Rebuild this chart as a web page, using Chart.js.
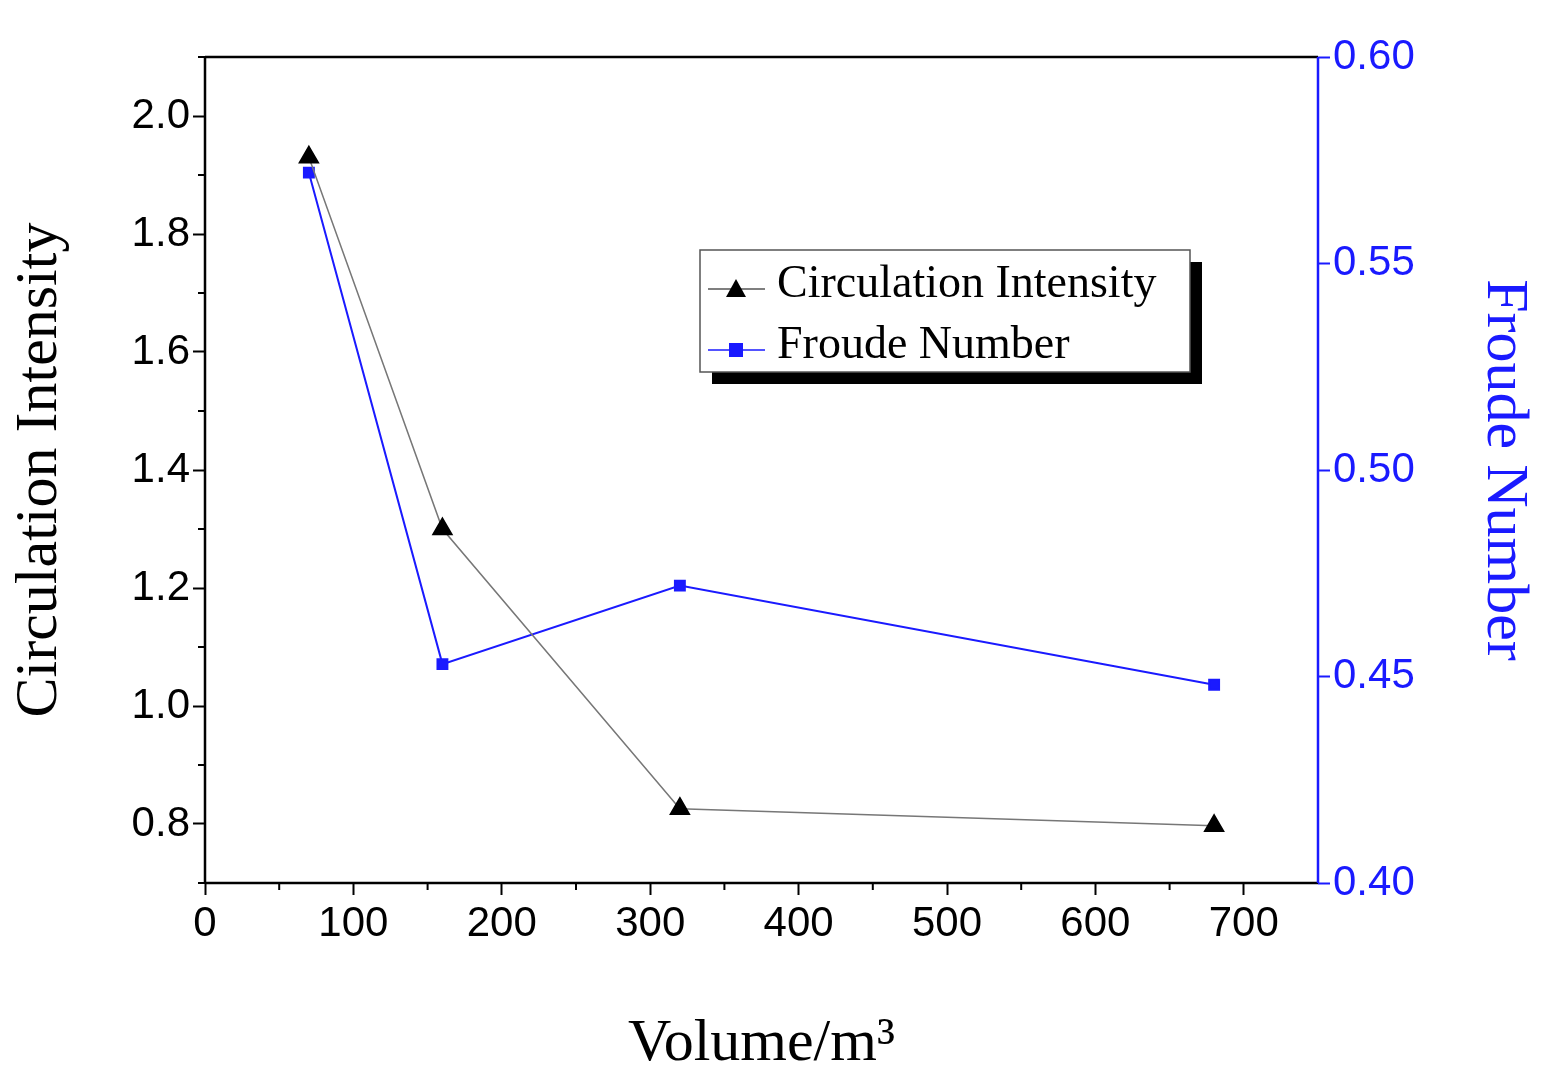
<!DOCTYPE html>
<html><head><meta charset="utf-8">
<script src="https://cdn.jsdelivr.net/npm/chart.js@4"></script>
<style>html,body{margin:0;padding:0;background:#fff}#w{width:1550px;height:1084px}</style>
</head><body><div id="w"><canvas id="c"></canvas></div>
<script>
const volumes=[70,160,320,680];
const circulation=[1.93,1.30,0.826,0.797];
const froude=[0.572,0.453,0.472,0.448];
const seriesNames=['Circulation Intensity','Froude Number'];
const xTicks=[0,100,200,300,400,500,600,700];
const BLUE='#1a1aff';
const frame={id:'frame',afterDraw(ch){
 const c=ch.ctx,a=ch.chartArea,x=ch.scales.x,y=ch.scales.y;
 c.save();c.lineWidth=2.5;c.strokeStyle='#000';
 c.beginPath();c.moveTo(a.left,a.top);c.lineTo(a.right,a.top);c.moveTo(a.left,a.bottom);c.lineTo(a.right,a.bottom);c.moveTo(a.left,a.top);c.lineTo(a.left,a.bottom);c.stroke();
 c.strokeStyle=BLUE;c.beginPath();c.moveTo(a.right,a.top);c.lineTo(a.right,a.bottom);c.stroke();
 c.lineWidth=2;c.strokeStyle='#000';c.beginPath();
 for(let v=50;v<750;v+=100){const p=x.getPixelForValue(v);c.moveTo(p,a.bottom);c.lineTo(p,a.bottom+7);}
 for(let v=0.7;v<2.1;v+=0.2){const p=y.getPixelForValue(v);c.moveTo(a.left,p);c.lineTo(a.left-7,p);}
 c.stroke();
 const lx=700,ly=250,lw=490,lh=122;
 c.fillStyle='#000';c.fillRect(lx+12,ly+12,lw,lh);
 c.fillStyle='#fff';c.fillRect(lx,ly,lw,lh);c.lineWidth=1.5;c.strokeStyle='#555';c.strokeRect(lx,ly,lw,lh);
 c.font='46px "Liberation Serif"';c.textBaseline='middle';
 c.strokeStyle='#555';c.lineWidth=1.5;c.beginPath();c.moveTo(708,289);c.lineTo(765,289);c.stroke();
 c.fillStyle='#000';c.beginPath();c.moveTo(736,279);c.lineTo(746,297);c.lineTo(726,297);c.closePath();c.fill();
 c.fillText(seriesNames[0],777,285);
 c.strokeStyle=BLUE;c.beginPath();c.moveTo(708,350);c.lineTo(765,350);c.stroke();
 c.fillStyle=BLUE;c.fillRect(729,343,14,14);
 c.fillStyle='#000';c.fillText(seriesNames[1],777,346);
 c.restore();}};
new Chart(document.getElementById('c'),{type:'line',
 data:{datasets:[
  {label:seriesNames[0],data:volumes.map((v,i)=>({x:v,y:circulation[i]})),yAxisID:'y',borderColor:'#777',borderWidth:1.5,pointStyle:'triangle',pointRadius:11,backgroundColor:'#000',pointBorderColor:'#000'},
  {label:seriesNames[1],data:volumes.map((v,i)=>({x:v,y:froude[i]})),yAxisID:'y2',borderColor:BLUE,borderWidth:2,pointStyle:'rect',pointRadius:7,backgroundColor:BLUE,pointBorderColor:BLUE}]},
 options:{responsive:true,maintainAspectRatio:false,animation:false,
  layout:{padding:{top:57,left:0,right:0,bottom:0}},
  plugins:{legend:{display:false},tooltip:{enabled:false}},
  scales:{
   x:{type:'linear',min:0,max:750,afterFit(s){s.height=201},
    afterBuildTicks(s){s.ticks=xTicks.map(v=>({value:v}))},
    ticks:{autoSkip:false,maxRotation:0,color:'#000',font:{size:42,family:'Liberation Sans'},padding:4},
    grid:{display:true,drawOnChartArea:false,tickLength:12,tickWidth:2,tickColor:'#000'},border:{display:false},
    title:{display:true,text:'Volume/m³',color:'#000',font:{size:60,family:'Liberation Serif'},padding:{top:30}}},
   y:{position:'left',min:0.7,max:2.1,afterFit(s){s.width=205},
    afterBuildTicks(s){s.ticks=[0.8,1.0,1.2,1.4,1.6,1.8,2.0].map(v=>({value:v}))},
    ticks:{autoSkip:false,color:'#000',font:{size:42,family:'Liberation Sans'},callback:v=>v.toFixed(1)},
    grid:{drawOnChartArea:false,tickLength:12,tickWidth:2,tickColor:'#000'},border:{display:false},
    title:{display:true,text:'Circulation Intensity',color:'#000',font:{size:60,family:'Liberation Serif'},padding:{bottom:10}}},
   y2:{position:'right',min:0.4,max:0.6,afterFit(s){s.width=232},
    afterBuildTicks(s){s.ticks=[0.4,0.45,0.5,0.55,0.6].map(v=>({value:v}))},
    ticks:{autoSkip:false,color:BLUE,font:{size:42,family:'Liberation Sans'},callback:v=>v.toFixed(2)},
    grid:{drawOnChartArea:false,tickLength:12,tickWidth:2,tickColor:BLUE},border:{display:false},
    title:{display:true,text:'Froude Number',color:BLUE,font:{size:60,family:'Liberation Serif'},padding:{top:10}}}}},
 plugins:[frame]});
</script></body></html>
